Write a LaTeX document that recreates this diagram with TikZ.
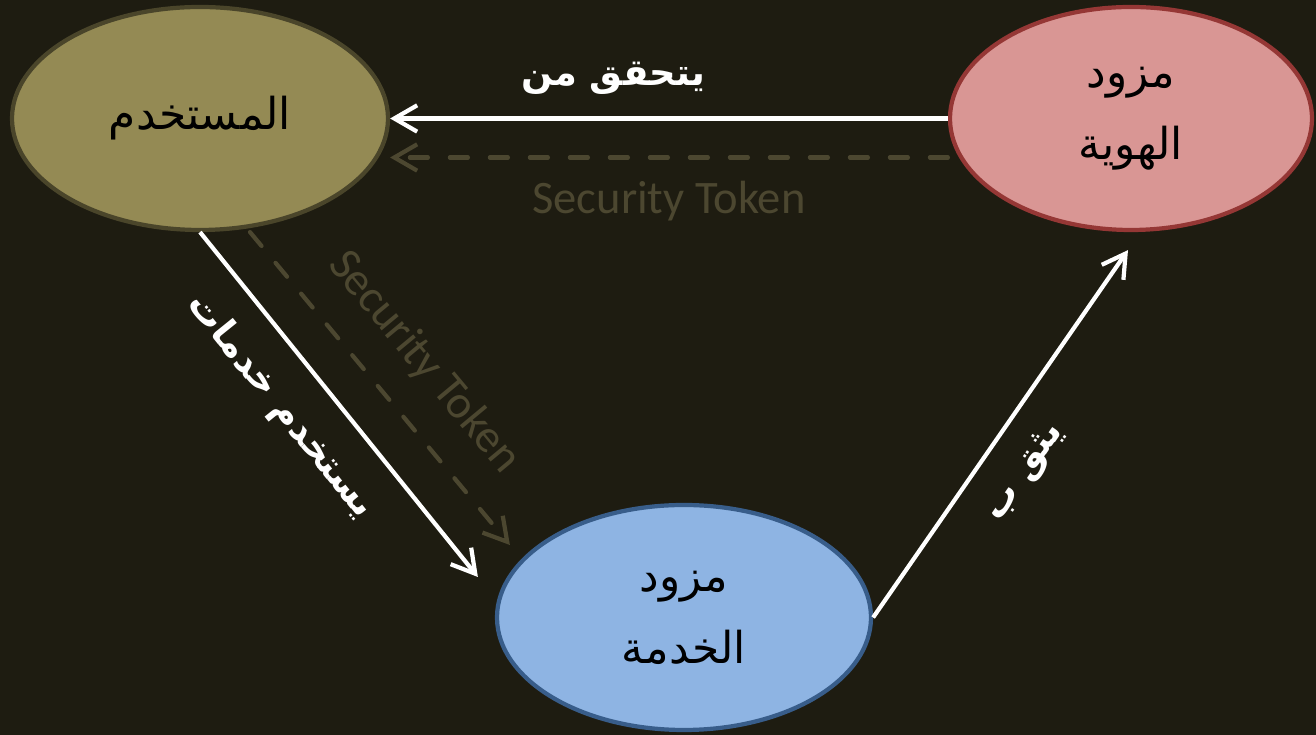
\documentclass[tikz,border=0pt]{standalone}
\usepackage{fontspec}
\setmainfont{Carlito}
\newfontfamily\arabicfont[Script=Arabic]{DejaVu Sans}
\TeXXeTstate=1
\usetikzlibrary{shapes.geometric, arrows.meta}
\definecolor{BgDark}{HTML}{1E1C11}
\definecolor{UserFill}{HTML}{948A54}
\definecolor{UserLine}{HTML}{4A452A}
\definecolor{IdentFill}{HTML}{D99694}
\definecolor{IdentLine}{HTML}{953735}
\definecolor{ServFill}{HTML}{8EB4E3}
\definecolor{ServLine}{HTML}{385D8A}
\definecolor{TokenLine}{HTML}{4C4730}

\begin{document}
\begin{tikzpicture}[
    party/.style={
        ellipse, draw=#1Line, fill=#1Fill, line width=2.4pt,
        inner sep=0pt, minimum height=4.46cm, align=center,
        font=\arabicfont\fontsize{25}{41}\selectfont, text=black
    },
    flow/.style={-{Straight Barb[length=13pt, width=15pt]},
                 line width=2.4pt, white},
    token/.style={-{Straight Barb[length=13pt, width=15pt]},
                  line width=2.4pt, TokenLine, line cap=round,
                  dash pattern=on 0.36cm off 0.44cm},
    lbl/.style={font=\arabicfont\bfseries\fontsize{21}{24}\selectfont,
                text=white},
    toklbl/.style={font=\fontsize{26.5}{30}\selectfont, text=TokenLine}
]
\useasboundingbox[fill=BgDark] (0,0) rectangle (26.32,14.7);

% ===================================================================
% PARTIES
% ===================================================================
\node[party=User, minimum width=7.52cm] (user) at (4.0,12.33)
    {\beginR المستخدم\endR};

\node[party=Ident, minimum width=7.24cm] (ident) at (22.62,12.33)
    {\beginR مزود\endR\\\beginR الهوية\endR};

\node[party=Serv, minimum width=7.48cm, minimum height=4.5cm] (service)
    at (13.68,2.35)
    {\beginR مزود\endR\\\beginR الخدمة\endR};

% ===================================================================
% ARROWS
% ===================================================================
\draw[flow] (ident.west) --
    node[lbl, pos=0.6, yshift=0.8cm] {\beginR يتحقق من\endR}
    (user.east);
\draw[token] ([yshift=-0.78cm]ident.west) --
    node[toklbl, pos=0.5, yshift=-0.88cm] {Security Token}
    ([yshift=-0.78cm]user.east);

% user -> service
\draw[flow] (user.south) --
    node[lbl, sloped, pos=0.42, below=0.4cm] {\beginR يستخدم خدمات\endR}
    ([shift={(-0.34,0.81)}]service.west);
\draw[token] ([xshift=1cm]user.south) --
    node[toklbl, sloped, pos=0.52, above=0.45cm] {Security Token}
    ([shift={(0.3,1.45)}]service.west);

% service -> identity
\draw[flow] (service.east) --
    node[lbl, sloped, pos=0.46, below=0.38cm] {\beginR يثق ب\endR}
    ([shift={(-0.06,-0.36)}]ident.south);

\end{tikzpicture}
\end{document}
